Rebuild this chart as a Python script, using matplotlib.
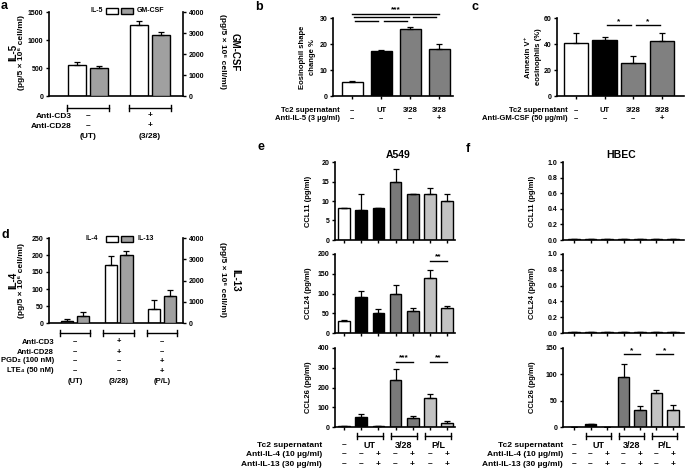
import numpy as np
import matplotlib
matplotlib.use('Agg')
import matplotlib.pyplot as plt
import matplotlib.transforms as mtransforms
from matplotlib.patches import Rectangle

plt.rcParams['font.family'] = ['Liberation Sans', 'DejaVu Sans']
plt.rcParams['font.weight'] = 'bold'
plt.rcParams['font.size'] = 5
plt.rcParams['axes.linewidth'] = 1.2
plt.rcParams['xtick.major.width'] = 1.0
plt.rcParams['ytick.major.width'] = 1.0
plt.rcParams['xtick.major.size'] = 2.5
plt.rcParams['ytick.major.size'] = 2.5
plt.rcParams['xtick.major.pad'] = 1.5
plt.rcParams['ytick.major.pad'] = 1.5

# ---- data ----
# a: IL-5 / GM-CSF
a_groups = ['(UT)', '(3/28)']
a_cd3 = ['–', '+']
a_cd28 = ['–', '+']
il5 = [560, 1270]
il5_err = [45, 75]
gmcsf = [1320, 2920]
gmcsf_err = [95, 120]

# b: eosinophil shape change
b_tc2 = ['–', 'UT', '3/28', '3/28']
b_anti = ['–', '–', '–', '+']
shape = [5.2, 17.3, 25.9, 18.2]
shape_err = [0.7, 0.5, 0.8, 1.7]

# c: annexin V+
c_tc2 = ['–', 'UT', '3/28', '3/28']
c_anti = ['–', '–', '–', '+']
annexin = [40.8, 43.1, 25.3, 42.6]
annexin_err = [7.4, 2.6, 5.6, 5.9]

# d: IL-4 / IL-13
d_groups = ['(UT)', '(3/28)', '(P/L)']
d_cd3 = ['–', '+', '–']
d_cd28 = ['–', '+', '–']
d_pgd2 = ['–', '–', '+']
d_lte4 = ['–', '–', '+']
il4 = [7, 171, 42]
il4_err = [6, 27, 27]
il13 = [345, 3220, 1270]
il13_err = [155, 150, 270]

# e/f: chemokines
ef_tc2 = ['UT', '3/28', 'P/L']
ef_il4 = ['–', '–', '+', '–', '+', '–', '+']
ef_il13 = ['–', '–', '+', '–', '+', '–', '+']
e_ccl11 = [8.1, 7.8, 8.1, 14.9, 11.7, 11.7, 10.0]
e_ccl11_err = [0.2, 4.1, 0.0, 3.2, 0.0, 1.7, 1.9]
e_ccl24 = [31.6, 91.5, 50, 97.5, 56.7, 140, 64]
e_ccl24_err = [1.5, 14.5, 10, 25, 5.8, 20, 5]
e_ccl26 = [3, 50, 5, 240, 45, 145, 20]
e_ccl26_err = [0, 15, 1, 55, 13, 21, 8]
f_ccl11 = [0.012, 0.012, 0.012, 0.012, 0.012, 0.012, 0.012]
f_ccl24 = [0.012, 0.012, 0.012, 0.012, 0.012, 0.012, 0.012]
f_ccl26 = [0, 6.3, 0, 95.6, 33, 64.4, 33]
f_ccl26_err = [0, 0, 0, 23.3, 6.4, 5.6, 9]

W, H = 685, 469
GRAY_AD = '#a0a0a0'
GRAY_BC = '#808080'
DARK = '#7a7a7a'
LIGHT = '#c2c2c2'
ef_colors = ['white', 'black', 'black', DARK, DARK, LIGHT, LIGHT]

fig = plt.figure(figsize=(6.85, 4.69), dpi=100)


def rect(l, r, t, b):
    return [l / W, 1 - b / H, (r - l) / W, (b - t) / H]


def ypx(y):
    return 1 - y / H


def bars(ax, x, vals, errs, colors, width):
    ax.bar(x, vals, width, color=colors, edgecolor='black', linewidth=1.0, zorder=2)
    ax.errorbar(x, vals, yerr=[np.zeros(len(errs)), errs], fmt='none', ecolor='black',
                elinewidth=0.9, capsize=2, capthick=0.9, zorder=3)


def style(ax, xt=None):
    ax.spines['top'].set_visible(False)
    ax.spines['right'].set_visible(False)
    if xt is None:
        ax.set_xticks([])
    else:
        ax.set_xticks(xt)
        ax.set_xticklabels([])


def blend(ax):
    return mtransforms.blended_transform_factory(ax.transData, fig.transFigure)


def bracket(ax, x1, x2, yp):
    tr = blend(ax)
    y, h = ypx(yp), 3 / H
    ax.plot([x1, x2], [y, y], color='k', lw=1, transform=tr, clip_on=False)
    ax.plot([x1, x1], [y - h, y + h], color='k', lw=1, transform=tr, clip_on=False)
    ax.plot([x2, x2], [y - h, y + h], color='k', lw=1, transform=tr, clip_on=False)


def row(ax, xs, labels, yp, name=None, name_x=None, size=6):
    tr = blend(ax)
    for x, s in zip(xs, labels):
        ax.text(x, ypx(yp), s, transform=tr, ha='center', va='center', fontsize=size)
    if name is not None:
        fig.text(name_x / W, ypx(yp), name, ha='right', va='center', fontsize=size)


def sig(ax, x1, x2, y, txt, inset=0.0):
    ax.plot([x1 + inset, x2 - inset], [y, y], color='k', lw=1, clip_on=False)
    if txt:
        ax.text((x1 + x2) / 2, y, txt, ha='center', va='bottom', fontsize=6)


def legend_boxes(yp, left_label, right_label, lx, bx1, bx2, rx, gray):
    fig.text(lx / W, ypx(yp), left_label, ha='right', va='center', fontsize=5)
    for bx, c in [(bx1, 'white'), (bx2, gray)]:
        fig.add_artist(Rectangle((bx / W, ypx(yp + 3)), 12 / W, 6 / H, transform=fig.transFigure,
                                 facecolor=c, edgecolor='black', lw=1))
    fig.text(rx / W, ypx(yp), right_label, ha='left', va='center', fontsize=5)


def dual_labels(xl1, xl2, xr1, xr2, yc, left, right):
    unit = '(pg/5 × 10⁶ cell/ml)'
    fig.text(xl1 / W, ypx(yc), left, rotation=90, ha='center', va='center', fontsize=7)
    fig.text(xl2 / W, ypx(yc), unit, rotation=90, ha='center', va='center', fontsize=6)
    fig.text(xr1 / W, ypx(yc), unit, rotation=270, ha='center', va='center', fontsize=6)
    fig.text(xr2 / W, ypx(yc), right, rotation=270, ha='center', va='center', fontsize=7)


# ---- panel a ----
xa = np.arange(len(a_groups))
ax = fig.add_axes(rect(49, 183, 12, 96))
ax2 = ax.twinx()
bars(ax, xa - 0.18, il5, il5_err, 'white', 0.29)
bars(ax2, xa + 0.18, gmcsf, gmcsf_err, GRAY_AD, 0.29)
ax.set_xlim(-0.63, 1.53)
ax.set_ylim(0, 1500)
ax.set_yticks([0, 500, 1000, 1500])
ax2.set_ylim(0, 4000)
ax2.set_yticks([0, 1000, 2000, 3000, 4000])
style(ax)
for s in ['top', 'left', 'bottom']:
    ax2.spines[s].set_visible(False)
for g in xa:
    bracket(ax, g - 0.34, g + 0.34, 108)
row(ax, xa, a_cd3, 116, 'Anti-CD3', 72)
row(ax, xa, a_cd28, 126, 'Anti-CD28', 72)
row(ax, xa, a_groups, 136)
legend_boxes(11, 'IL-5', 'GM-CSF', 103, 106, 121, 137, GRAY_AD)
dual_labels(13, 22, 222, 235, 52, 'IL-5', 'GM-CSF')

# ---- panel b ----
xb = np.arange(len(shape))
ax = fig.add_axes(rect(333, 453, 18, 96))
bars(ax, xb, shape, shape_err, ['white', 'black', GRAY_BC, GRAY_BC], 0.72)
ax.set_xlim(-0.66, 3.48)
ax.set_ylim(0, 30)
ax.set_yticks([0, 10, 20, 30])
style(ax, xb)
sig(ax, 0, 3, 31.7, '***', 0.0)
sig(ax, 0, 2, 30.4, None, 0.05)
sig(ax, 2, 3, 30.4, None, 0.1)
sig(ax, 0, 1, 28.7, None, 0.1)
sig(ax, 1, 2, 28.7, None, 0.1)
row(ax, xb, b_tc2, 110.5, 'Tc2 supernatant', 340, size=5.5)
row(ax, xb, b_anti, 118.5, 'Anti-IL-5 (3 µg/ml)', 340, size=5.5)
fig.text(302 / W, ypx(57), 'Eosinophil shape', rotation=90, ha='center', va='center', fontsize=5.5)
fig.text(312 / W, ypx(57), 'change %', rotation=90, ha='center', va='center', fontsize=5.5)

# ---- panel c ----
xc = np.arange(len(annexin))
ax = fig.add_axes(rect(557, 684, 18, 96))
bars(ax, xc, annexin, annexin_err, ['white', 'black', GRAY_BC, GRAY_BC], 0.85)
ax.set_xlim(-0.66, 3.77)
ax.set_ylim(0, 60)
ax.set_yticks([0, 20, 40, 60])
style(ax, xc)
sig(ax, 1, 2, 54.7, '*', 0.08)
sig(ax, 2, 3, 54.7, '*', 0.08)
row(ax, xc, c_tc2, 110.5, 'Tc2 supernatant', 568, size=5.5)
row(ax, xc, c_anti, 118.5, 'Anti-GM-CSF (50 µg/ml)', 568, size=5.5)
fig.text(528 / W, ypx(57), 'Annexin V⁺', rotation=90, ha='center', va='center', fontsize=5.5)
fig.text(538 / W, ypx(57), 'eosinophils (%)', rotation=90, ha='center', va='center', fontsize=5.5)

# ---- panel d ----
xd = np.arange(len(d_groups))
ax = fig.add_axes(rect(49, 183, 238, 323))
ax2 = ax.twinx()
bars(ax, xd - 0.18, il4, il4_err, 'white', 0.28)
bars(ax2, xd + 0.18, il13, il13_err, GRAY_AD, 0.28)
ax.set_xlim(-0.6, 2.48)
ax.set_ylim(0, 250)
ax.set_yticks([0, 50, 100, 150, 200, 250])
ax2.set_ylim(0, 4000)
ax2.set_yticks([0, 1000, 2000, 3000, 4000])
style(ax)
for s in ['top', 'left', 'bottom']:
    ax2.spines[s].set_visible(False)
for g in xd:
    bracket(ax, g - 0.35, g + 0.35, 333)
row(ax, xd, d_cd3, 342, 'Anti-CD3', 54, size=5.5)
row(ax, xd, d_cd28, 352, 'Anti-CD28', 54, size=5.5)
row(ax, xd, d_pgd2, 361, 'PGD₂ (100 nM)', 54, size=5.5)
row(ax, xd, d_lte4, 371, 'LTE₄ (50 nM)', 54, size=5.5)
row(ax, xd, d_groups, 381, size=5.5)
legend_boxes(239, 'IL-4', 'IL-13', 98, 106, 121, 137, GRAY_AD)
dual_labels(13, 22, 222, 235, 280, 'IL-4', 'IL-13')


# ---- panels e and f ----
def chem_column(left, right, xlim, data, label_x, row_x, title, title_x, ylims, yticks):
    x = np.arange(7)
    tops = [(162, 240), (254, 333), (348, 427)]
    axes = []
    for (t, b), (vals, errs, name), ylim, yt in zip(tops, data, ylims, yticks):
        ax = fig.add_axes(rect(left, right, t, b))
        bars(ax, x, vals, errs, ef_colors, 0.7)
        ax.set_xlim(*xlim)
        ax.set_ylim(*ylim)
        ax.set_yticks(yt)
        style(ax, x)
        fig.text(label_x / W, ypx((t + b) / 2), name, rotation=90, ha='center', va='center',
                 fontsize=5.5)
        axes.append(ax)
    fig.text(title_x / W, ypx(158), title, ha='center', va='baseline', fontsize=7.5)
    ax = axes[-1]
    for g in range(3):
        bracket(ax, 1 + 2 * g - 0.25, 2 + 2 * g + 0.25, 436)
    row(ax, [0], ['–'], 445, 'Tc2 supernatant', row_x)
    row(ax, [1.5, 3.5, 5.5], ef_tc2, 445, size=6.5)
    row(ax, x, ef_il4, 454, 'Anti-IL-4 (10 µg/ml)', row_x)
    row(ax, x, ef_il13, 464, 'Anti-IL-13 (30 µg/ml)', row_x)
    return axes


e_axes = chem_column(335, 455, (-0.55, 6.49),
                     [(e_ccl11, e_ccl11_err, 'CCL11 (pg/ml)'),
                      (e_ccl24, e_ccl24_err, 'CCL24 (pg/ml)'),
                      (e_ccl26, e_ccl26_err, 'CCL26 (pg/ml)')],
                     309, 322, 'A549', 398,
                     [(0, 20), (0, 200), (0, 400)],
                     [[0, 5, 10, 15, 20], [0, 50, 100, 150, 200], [0, 100, 200, 300, 400]])
sig(e_axes[1], 5, 6, 183, '**')
sig(e_axes[2], 3, 4, 331, '***')
sig(e_axes[2], 5, 6, 331, '**')

f_axes = chem_column(563, 684, (-0.67, 6.67),
                     [(f_ccl11, [0] * 7, 'CCL11 (pg/ml)'),
                      (f_ccl24, [0] * 7, 'CCL24 (pg/ml)'),
                      (f_ccl26, f_ccl26_err, 'CCL26 (pg/ml)')],
                     532, 563, 'HBEC', 621,
                     [(0, 1), (0, 1), (0, 150)],
                     [[0, 0.2, 0.4, 0.6, 0.8, 1.0], [0, 0.2, 0.4, 0.6, 0.8, 1.0], [0, 50, 100, 150]])
for ax in f_axes[:2]:
    ax.set_yticklabels(['%.1f' % v for v in [0, 0.2, 0.4, 0.6, 0.8, 1.0]])
sig(f_axes[2], 3, 4, 139, '*')
sig(f_axes[2], 5, 6, 139, '*')

# panel letters
for letter, xp, yp in [('a', 1, 9), ('b', 255, 10), ('c', 471, 10),
                       ('d', 1, 238), ('e', 257, 150), ('f', 466, 152)]:
    fig.text(xp / W, ypx(yp), letter, ha='left', va='baseline', fontsize=9)

fig.savefig('out.png', dpi=100)
